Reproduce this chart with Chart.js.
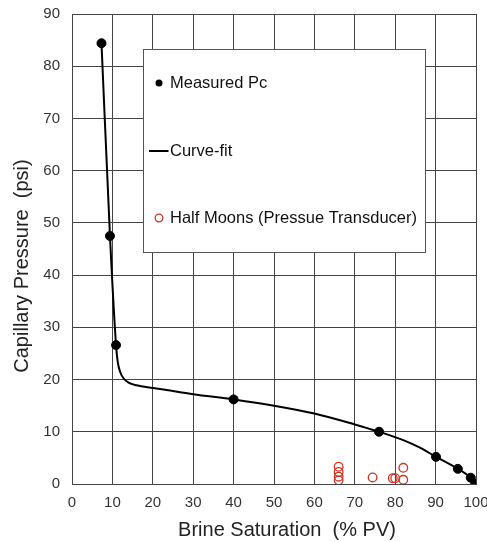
<!DOCTYPE html>
<html><head><meta charset="utf-8">
<script src="https://cdn.jsdelivr.net/npm/chart.js@4"></script>
<style>html,body{margin:0;padding:0;background:#fff}#wrap{width:487px;height:542px;position:relative}</style>
</head><body><div id="wrap"><canvas id="c"></canvas></div>
<script>
const measuredX = [7.3, 9.4, 10.9, 40, 76, 90.1, 95.5, 98.7, 99.8];
const measuredY = [84.4, 47.5, 26.6, 16.2, 10.0, 5.2, 2.9, 1.2, 0.1];
const fitX = [7.3, 9.4, 10.9, 11.3, 11.9, 12.8, 14, 16, 20, 30, 40, 50, 60, 70, 76, 82, 86, 90.1, 95.5, 98.7, 99.8];
const fitY = [84.4, 47.5, 26.6, 23.5, 21.5, 20.2, 19.4, 18.9, 18.4, 17.2, 16.2, 15.0, 13.5, 11.4, 10.0, 8.4, 7.0, 5.2, 2.9, 1.2, 0.1];
const halfMoonX = [66, 66, 66, 66, 74.4, 79.4, 80.0, 82, 82];
const halfMoonY = [3.3, 2.3, 1.4, 0.7, 1.25, 1.1, 1.1, 3.1, 0.8];
const xTicks = [0,10,20,30,40,50,60,70,80,90,100];
const yTicks = [0,10,20,30,40,50,60,70,80,90];
const labels = ['Measured Pc', 'Curve-fit', 'Half Moons (Pressue Transducer)'];
const xTitle = 'Brine Saturation  (% PV)';
const yTitle = 'Capillary Pressure  (psi)';

const FONT = "'Liberation Sans', Arial, sans-serif";
const toPts = (xs, ys) => xs.map((x, i) => ({x, y: ys[i]}));

const legendPlugin = {
  id: 'boxLegend',
  beforeDatasetsDraw(chart) {
    const ctx = chart.ctx;
    ctx.save();
    ctx.fillStyle = '#fff';
    ctx.strokeStyle = '#555';
    ctx.lineWidth = 1;
    ctx.fillRect(143.5, 49.5, 282, 203);
    ctx.strokeRect(143.5, 49.5, 282, 203);
    ctx.font = '16.5px ' + FONT;
    ctx.fillStyle = '#111';
    ctx.textBaseline = 'middle';
    const ys = [83, 151, 218];
    chart.data.datasets.forEach((d, i) => ctx.fillText(d.label, 170, ys[i]));
    ctx.beginPath(); ctx.arc(159, ys[0], 3.5, 0, Math.PI*2); ctx.fillStyle = '#000'; ctx.fill();
    ctx.beginPath(); ctx.moveTo(149, ys[1]); ctx.lineTo(168.5, ys[1]); ctx.strokeStyle='#000'; ctx.lineWidth=2; ctx.stroke();
    ctx.beginPath(); ctx.arc(159, ys[2], 3.8, 0, Math.PI*2); ctx.strokeStyle='#cc3322'; ctx.lineWidth=1.3; ctx.stroke();
    ctx.restore();
  },
  afterDraw(chart) {
    const ctx = chart.ctx, a = chart.chartArea;
    ctx.save();
    ctx.font = '20px ' + FONT;
    ctx.fillStyle = '#222';
    ctx.textAlign = 'center';
    ctx.textBaseline = 'middle';
    ctx.fillText(xTitle, (a.left + a.right) / 2 + 13, 530);
    ctx.translate(22, (a.top + a.bottom) / 2 + 17);
    ctx.rotate(-Math.PI / 2);
    ctx.fillText(yTitle, 0, 0);
    ctx.restore();
  }
};

new Chart(document.getElementById('c'), {
  type: 'scatter',
  data: {
    datasets: [
      { label: labels[0], data: toPts(measuredX, measuredY), backgroundColor: '#000', borderColor: '#000', pointRadius: 4.5, pointHoverRadius: 4.5, order: 0 },
      { label: labels[1], data: toPts(fitX, fitY), showLine: true, borderColor: '#000', borderWidth: 2, pointRadius: 0, cubicInterpolationMode: 'monotone', order: 1 },
      { label: labels[2], data: toPts(halfMoonX, halfMoonY), backgroundColor: 'rgba(0,0,0,0)', borderColor: '#cc3322', borderWidth: 1.3, pointRadius: 4.3, order: 2 }
    ]
  },
  options: {
    responsive: true, maintainAspectRatio: false, animation: false,
    layout: { padding: { left: 0, right: 11, top: 14, bottom: 0 } },
    plugins: { legend: { display: false }, tooltip: { enabled: false } },
    scales: {
      x: {
        type: 'linear', min: 0, max: 100,
        afterBuildTicks(s) { s.ticks = xTicks.map(v => ({value: v})); },
        afterFit(s) { s.height = 58; s.paddingLeft = 0; s.paddingRight = 0; },
        ticks: { color: '#333', font: { family: FONT, size: 15 }, padding: 10, maxRotation: 0 },
        grid: { color: '#444', lineWidth: 1, drawTicks: false },
        border: { color: '#444' },
        title: { display: false }
      },
      y: {
        type: 'linear', min: 0, max: 90,
        afterBuildTicks(s) { s.ticks = yTicks.map(v => ({value: v})); },
        afterFit(s) { s.width = 72; s.paddingTop = 0; s.paddingBottom = 0; },
        ticks: { color: '#333', font: { family: FONT, size: 15 }, padding: 12 },
        grid: { color: '#444', lineWidth: 1, drawTicks: false },
        border: { color: '#444' },
        title: { display: false }
      }
    }
  },
  plugins: [legendPlugin]
});
</script>
</body></html>
